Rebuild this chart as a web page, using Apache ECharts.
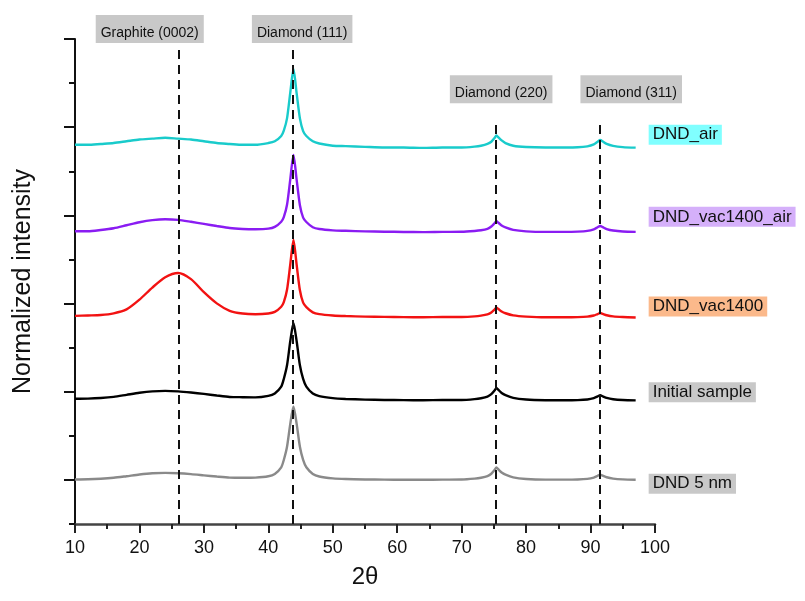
<!DOCTYPE html>
<html>
<head>
<meta charset="utf-8">
<script src="https://cdn.jsdelivr.net/npm/echarts@6/dist/echarts.min.js"></script>
<style>
  html, body { margin: 0; padding: 0; background: #fff; }
  #chart { width: 805px; height: 601px; }
</style>
</head>
<body>
<div id="chart"></div>
<script>
// Diffraction angle 2θ (degrees), shared by every pattern
const twoTheta = [10,12,14,16,18,20,22,24,26,28,30,32,34,36,38,40,
  41,42,42.4,42.9,43.4,43.9,44.4,44.9,45.4,45.9,46.9,47.9,
  50,52,55,58,61,64,67,70,72,73,74,
  74.6,75.1,75.4,75.7,76.2,76.8,78,
  80,83,86,88,89.5,90.5,
  91.1,91.5,91.9,92.5,93.5,95,97];

// Normalized intensity of each pattern (stacked with vertical offsets)
const dndAir = [3.80,3.80,3.81,3.82,3.84,3.86,3.87,3.88,3.87,3.86,3.84,3.82,3.81,3.80,3.80,3.82,
  3.84,3.90,3.96,4.10,4.39,4.66,4.38,4.10,3.955,3.90,3.84,3.815,
  3.79,3.785,3.777,3.77,3.77,3.765,3.77,3.77,3.78,3.79,3.81,
  3.835,3.877,3.905,3.884,3.85,3.82,3.79,
  3.775,3.77,3.77,3.772,3.783,3.805,
  3.835,3.855,3.837,3.81,3.788,3.774,3.768];

const dndVac1400Air = [2.82,2.82,2.834,2.854,2.888,2.922,2.946,2.956,2.949,2.927,2.903,2.879,2.856,2.846,2.843,2.849,
  2.869,2.928,2.98,3.12,3.405,3.685,3.40,3.115,2.975,2.925,2.865,2.845,
  2.83,2.825,2.818,2.815,2.812,2.81,2.813,2.814,2.823,2.831,2.848,
  2.873,2.91,2.935,2.916,2.885,2.863,2.835,
  2.819,2.813,2.813,2.816,2.824,2.842,
  2.865,2.88,2.866,2.845,2.828,2.817,2.813];

const dndVac1400 = [1.86,1.865,1.87,1.889,1.934,2.044,2.181,2.298,2.347,2.277,2.129,2.002,1.918,1.887,1.879,1.887,
  1.905,1.964,2.016,2.156,2.44,2.72,2.435,2.15,2.01,1.96,1.90,1.88,
  1.865,1.858,1.852,1.849,1.846,1.845,1.847,1.848,1.855,1.863,1.877,
  1.899,1.932,1.954,1.938,1.91,1.89,1.866,
  1.852,1.844,1.844,1.846,1.852,1.864,
  1.881,1.892,1.882,1.867,1.854,1.847,1.842];

const initialSample = [0.92,0.922,0.929,0.942,0.965,0.988,1.004,1.01,1.004,0.991,0.975,0.957,0.941,0.938,0.936,0.953,
  0.981,1.058,1.145,1.30,1.57,1.78,1.57,1.30,1.145,1.058,0.98,0.95,
  0.927,0.918,0.911,0.907,0.905,0.903,0.906,0.906,0.916,0.926,0.944,
  0.972,1.014,1.042,1.021,0.986,0.961,0.93,
  0.912,0.904,0.903,0.905,0.912,0.927,
  0.947,0.96,0.948,0.93,0.915,0.906,0.902];

const dnd5nm = [0.005,0.007,0.013,0.024,0.042,0.061,0.075,0.08,0.076,0.066,0.052,0.038,0.026,0.024,0.026,0.041,
  0.068,0.143,0.226,0.376,0.632,0.832,0.632,0.376,0.226,0.143,0.068,0.039,
  0.018,0.01,0.005,0.003,0.002,0.001,0.003,0.004,0.014,0.024,0.042,
  0.07,0.112,0.14,0.119,0.084,0.059,0.028,
  0.01,0.003,0.003,0.005,0.012,0.027,
  0.047,0.06,0.048,0.03,0.015,0.006,0.002];

// Reflection markers
const peakLabels = ['Graphite (0002)', 'Diamond (111)', 'Diamond (220)', 'Diamond (311)'];
const peakPositions = [26.1, 43.85, 75.35, 91.5];
const peakLineTops = [4.875, 4.875, 4.08, 4.08];

// Axis ticks
const xTicks = [10, 20, 30, 40, 50, 60, 70, 80, 90, 100];
const yMajorTicks = [0, 1, 2, 3, 4, 5];

const FONT = 'Liberation Sans, Arial, sans-serif';

const patterns = [
  { name: 'DND 5 nm',        values: dnd5nm,        color: '#8a8a8a', box: '#c8c8c8', dy: 4 },
  { name: 'Initial sample',  values: initialSample, color: '#000000', box: '#c8c8c8', dy: -8 },
  { name: 'DND_vac1400',     values: dndVac1400,    color: '#f21212', box: '#fbb98b', dy: -11 },
  { name: 'DND_vac1400_air', values: dndVac1400Air, color: '#8a1cf2', box: '#d5b0fa', dy: -15 },
  { name: 'DND_air',         values: dndAir,        color: '#19cbcb', box: '#80ffff', dy: -13 }
];

const chart = echarts.init(document.getElementById('chart'), null, { renderer: 'canvas' });

const series = patterns.map(p => ({
  name: p.name,
  type: 'line',
  data: twoTheta.map((x, i) => [x, p.values[i]]),
  showSymbol: false,
  smooth: 0.25,
  lineStyle: { color: p.color, width: 2.4 },
  itemStyle: { color: p.color },
  z: 2,
  endLabel: {
    show: true,
    formatter: p.name,
    distance: 13,
    offset: [0, p.dy],
    fontFamily: FONT,
    fontSize: 17,
    color: '#111',
    backgroundColor: p.box,
    padding: [2, 4, 1, 4]
  }
}));

// Dashed reference lines at the reflection positions
series.push({
  name: 'reflections',
  type: 'line',
  data: [],
  silent: true,
  z: 4,
  markLine: {
    silent: true,
    symbol: ['none', 'none'],
    label: { show: false },
    lineStyle: { type: [9, 6], color: '#111', width: 2 },
    data: peakPositions.map((x, i) => [
      { coord: [x, -0.5] },
      { coord: [x, peakLineTops[i]] }
    ])
  }
});

chart.setOption({
  animation: false,
  backgroundColor: '#fff',
  grid: { left: 75, right: 150, top: 39, bottom: 77 },
  xAxis: {
    type: 'value',
    min: 10,
    max: 100,
    interval: 10,
    name: '2θ',
    nameLocation: 'middle',
    nameGap: 41,
    nameTextStyle: { fontFamily: FONT, fontSize: 24, color: '#111' },
    axisLine: { onZero: false, lineStyle: { color: '#444', width: 2.5 } },
    axisTick: { length: 9, lineStyle: { color: '#222', width: 2 } },
    minorTick: { show: true, splitNumber: 2, length: 5, lineStyle: { color: '#222', width: 2 } },
    splitLine: { show: false },
    axisLabel: {
      margin: 15,
      fontFamily: FONT,
      fontSize: 18,
      color: '#111',
      customValues: xTicks
    }
  },
  yAxis: [
    {
      type: 'value',
      min: -0.5,
      max: 5,
      interval: 0.5,
      name: 'Normalized intensity',
      nameLocation: 'middle',
      nameGap: 39,
      nameTextStyle: { fontFamily: FONT, fontSize: 25, color: '#111' },
      axisLine: { show: true, lineStyle: { color: '#111', width: 2 } },
      axisTick: { show: true, length: 6, lineStyle: { color: '#111', width: 2 } },
      axisLabel: { show: false },
      splitLine: { show: false }
    },
    {
      type: 'value',
      min: -0.5,
      max: 5,
      position: 'left',
      axisLine: { show: false },
      axisTick: { show: true, length: 11, customValues: yMajorTicks, lineStyle: { color: '#111', width: 2 } },
      axisLabel: { show: false },
      splitLine: { show: false }
    }
  ],
  series: series
});

// Reflection name boxes above the dashed lines
const labelOffsets = [[-29, -35], [9, -35], [5, -45], [31, -45]];
const graphics = peakLabels.map((text, i) => {
  const p = chart.convertToPixel({ gridIndex: 0 }, [peakPositions[i], peakLineTops[i]]);
  return {
    type: 'text',
    silent: true,
    z: 10,
    style: {
      text: text,
      x: p[0] + labelOffsets[i][0],
      y: p[1] + labelOffsets[i][1],
      align: 'center',
      verticalAlign: 'top',
      font: '14px ' + FONT,
      fill: '#111',
      backgroundColor: '#c8c8c8',
      padding: [11, 5, 3, 5]
    }
  };
});
chart.setOption({ graphic: graphics });
</script>
</body>
</html>
